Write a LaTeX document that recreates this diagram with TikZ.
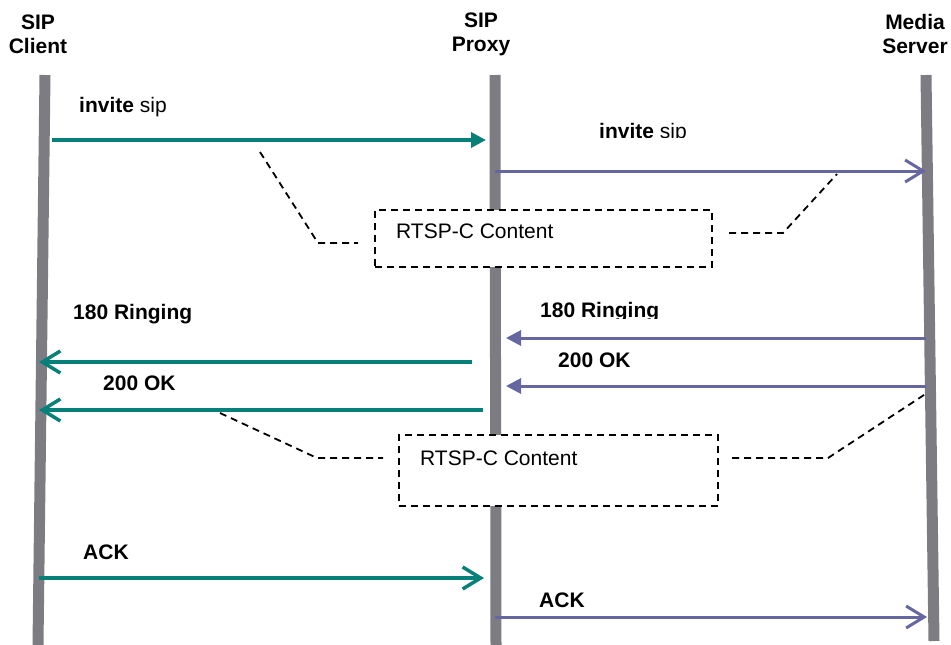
\documentclass[tikz,border=0pt]{standalone}
\usepackage{fontspec}
\setmainfont{Liberation Sans}
\usetikzlibrary{arrows.meta}
\definecolor{sipteal}{RGB}{8,128,122}
\definecolor{sippurple}{RGB}{102,102,160}
\definecolor{lifegray}{RGB}{124,124,130}

\begin{document}
\begin{tikzpicture}[x=1pt,y=-1pt,
  lbl/.style={inner sep=0pt,anchor=base west,font=\fontsize{21}{24}\selectfont},
  hdr/.style={inner sep=0pt,align=center,font=\fontsize{21}{24}\selectfont\bfseries},
  life/.style={lifegray,line width=11pt},
  tealmsg/.style={sipteal,line width=3.5pt},
  purpmsg/.style={sippurple,line width=3pt},
  barb/.style={-{Straight Barb[length=18pt,width=22pt]}},
  tri/.style={-{Triangle[length=15pt,width=15pt]}},
  callout/.style={black,line width=1.8pt,dash pattern=on 7pt off 5pt},
  cbox/.style={callout,draw,fill=white,anchor=north west,inner sep=0pt}]
\useasboundingbox (0,0) rectangle (951,645);

% parties
\node[hdr] (client) at (38,34) {SIP\\Client};
\node[hdr] (proxy) at (481,34) {SIP\\Proxy};
\node[hdr] (server) at (915,34) {Media\\Server};

% life lines
\coordinate (clienttop) at (45,75);  \coordinate (clientbot) at (38,645);
\coordinate (proxytop) at (495,75);  \coordinate (proxybot) at (496,645);
\coordinate (servertop) at (926,75); \coordinate (serverbot) at (934,641);
\draw[life] (clienttop) -- (clientbot);
\draw[life] (proxytop) -- (proxybot);
\draw[life] (servertop) -- (serverbot);

% invite
\coordinate (inv1a) at (52,140);  \coordinate (inv1b) at (486,140);
\coordinate (inv2a) at (495,171); \coordinate (inv2b) at (926,171);
\draw[tealmsg,tri] (inv1a) -- (inv1b);
\draw[purpmsg,barb] (inv2a) -- (inv2b);
\node[lbl] (inv1lbl) at (79,112) {\textbf{invite} sip};
\begin{scope}
\clip (590,110) rectangle (700,137.5);
\node[lbl] (inv2lbl) at (599,138) {\textbf{invite} sip};
\end{scope}

% first callout
\node[cbox,minimum width=337pt,minimum height=57pt] (box1) at (374,209) {};
\node[lbl] (box1txt) at (396,238) {RTSP-C Content};
\coordinate (k1a) at (260,152); \coordinate (k1b) at (318,243); \coordinate (k1c) at (358,243);
\coordinate (k2a) at (729,233); \coordinate (k2b) at (783,233); \coordinate (k2c) at (837,174);
\draw[callout] (k1a) -- (k1b) -- (k1c);
\draw[callout] (k2a) -- (k2b) -- (k2c);

% 180 / 200
\coordinate (ring2a) at (926,338); \coordinate (ring2b) at (506,338);
\coordinate (ok2a) at (926,386);   \coordinate (ok2b) at (506,386);
\coordinate (ring1a) at (472,362); \coordinate (ring1b) at (39,362);
\coordinate (ok1a) at (483,410);   \coordinate (ok1b) at (39,410);
\draw[purpmsg,tri] (ring2a) -- (ring2b);
\draw[purpmsg,tri] (ok2a) -- (ok2b);
\draw[tealmsg,barb] (ring1a) -- (ring1b);
\draw[tealmsg,barb] (ok1a) -- (ok1b);
\node[lbl] (ring1lbl) at (73,319) {\textbf{180 Ringing}};
\node[lbl] (ok1lbl) at (103,390) {\textbf{200 OK}};
\begin{scope}
\clip (530,295) rectangle (700,318);
\node[lbl] (ring2lbl) at (540,317) {\textbf{180 Ringing}};
\end{scope}
\node[lbl] (ok2lbl) at (558,367) {\textbf{200 OK}};

% second callout
\node[cbox,minimum width=319pt,minimum height=71pt] (box2) at (398,434) {};
\node[lbl] (box2txt) at (420,465) {RTSP-C Content};
\coordinate (k3a) at (220,413); \coordinate (k3b) at (317,458); \coordinate (k3c) at (383,458);
\coordinate (k4a) at (732,458); \coordinate (k4b) at (828,458); \coordinate (k4c) at (927,393);
\draw[callout] (k3a) -- (k3b) -- (k3c);
\draw[callout] (k4a) -- (k4b) -- (k4c);

% ACK
\coordinate (ack1a) at (39,578);  \coordinate (ack1b) at (484,578);
\coordinate (ack2a) at (495,617); \coordinate (ack2b) at (927,617);
\draw[tealmsg,barb] (ack1a) -- (ack1b);
\draw[purpmsg,barb] (ack2a) -- (ack2b);
\node[lbl] (ack1lbl) at (83,559) {\textbf{ACK}};
\node[lbl] (ack2lbl) at (539,607) {\textbf{ACK}};
\end{tikzpicture}
\end{document}
